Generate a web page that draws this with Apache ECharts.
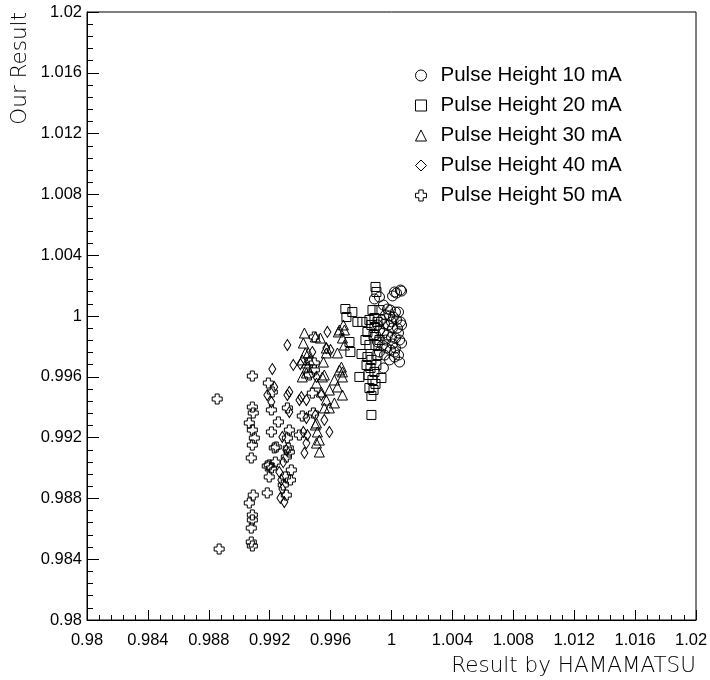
<!DOCTYPE html>
<html>
<head>
<meta charset="utf-8">
<script src="https://cdn.jsdelivr.net/npm/echarts@6/dist/echarts.min.js"></script>
<style>html,body{margin:0;padding:0;background:#fff}#c{width:710px;height:680px}</style>
</head>
<body>
<div id="c"></div>
<script>
const seriesNames = ['Pulse Height 10 mA','Pulse Height 20 mA','Pulse Height 30 mA','Pulse Height 40 mA','Pulse Height 50 mA'];
const xTitle = 'Result by HAMAMATSU';
const yTitle = 'Our Result';
const axisMin = 0.98, axisMax = 1.02, axisStep = 0.004;

const ph10 = [
[1.00059,1.00171],[1.00066,1.00164],[1.00033,1.00151],[1.00020,1.00158],[1.00007,1.00132],[0.99921,1.00125],
[0.99888,1.00112],[0.99947,1.00072],[0.99974,1.00046],[0.99993,1.00039],[1.00026,1.00026],[1.00046,1.00026],
[0.99961,1.00007],[0.99987,1.00000],[1.00013,0.99993],[1.00033,0.99974],[1.00059,0.99961],[0.99934,0.99974],
[0.99954,0.99947],[0.99980,0.99941],[1.00007,0.99921],[1.00039,0.99921],[1.00066,0.99941],[0.99921,0.99908],
[0.99947,0.99888],[0.99974,0.99875],[1.00000,0.99862],[1.00026,0.99855],[1.00053,0.99842],[1.00066,0.99822],
[0.99908,0.99829],[0.99941,0.99809],[0.99967,0.99789],[0.99993,0.99776],[1.00020,0.99763],[1.00046,0.99743],
[0.99954,0.99743],[0.99987,0.99711],[1.00020,0.99730],[1.00053,0.99697],[0.99947,0.99658],[0.99921,0.99763],
[1.00007,0.99816],[0.99895,0.99875],[0.99908,0.99941],[1.00046,0.99888],[0.99961,0.99842],[1.00000,0.99961],
[1.00026,0.99789]
];
const ph20 = [
[0.99895,1.00191],[0.99901,1.00158],[0.99875,1.00039],[0.99921,1.00039],[0.99697,1.00046],[0.99743,1.00026],
[0.99704,0.99993],[0.99776,0.99961],[0.99809,0.99961],[0.99724,0.99829],[0.99730,0.99763],[0.99803,0.99750],
[0.99789,0.99599],[0.99868,0.99474],[0.99868,0.99349],[0.99855,0.99974],[0.99868,0.99941],[0.99888,0.99987],
[0.99908,0.99961],[0.99842,0.99895],[0.99882,0.99875],[0.99855,0.99809],[0.99895,0.99809],[0.99842,0.99730],
[0.99868,0.99711],[0.99908,0.99743],[0.99836,0.99678],[0.99862,0.99658],[0.99888,0.99632],[0.99849,0.99612],
[0.99875,0.99579],[0.99895,0.99553],[0.99855,0.99526],[0.99882,0.99513],[0.99901,0.99678],[0.99921,0.99842],
[0.99934,0.99592],[0.99888,0.99921],[0.99829,0.99842]
];
const ph30 = [
[0.99428,0.99888],[0.99421,0.99822],[0.99434,0.99757],[0.99454,0.99757],[0.99441,0.99691],[0.99441,0.99625],
[0.99559,0.99612],[0.99553,0.99697],[0.99572,0.99757],[0.99651,0.99895],[0.99645,0.99757],[0.99658,0.99645],
[0.99678,0.99632],[0.99533,0.99855],[0.99500,0.99862],[0.99414,0.99711],[0.99447,0.99664],[0.99414,0.99599],
[0.99546,0.99599],[0.99572,0.99789],[0.99658,0.99908],[0.99691,0.99908],[0.99678,0.99855],[0.99671,0.99664],
[0.99678,0.99599],[0.99645,0.99533],[0.99678,0.99480],[0.99625,0.99428],[0.99507,0.99296],[0.99513,0.99237],
[0.99507,0.99164],[0.99526,0.99105],[0.99559,0.99395],[0.99572,0.99447],[0.99539,0.99500],[0.99507,0.99559],
[0.99500,0.99283],[0.99526,0.99184],[0.99592,0.99395],[0.99691,0.99809],[0.99625,0.99579],[0.99461,0.99711],
[0.99592,0.99513],[0.99684,0.99941]
];
const ph40 = [
[0.99579,0.99895],[0.99316,0.99809],[0.99355,0.99678],[0.99217,0.99651],[0.99572,0.99789],[0.99230,0.99533],
[0.99184,0.99480],[0.99211,0.99434],[0.99329,0.99368],[0.99316,0.99480],[0.99441,0.99329],[0.99447,0.99217],
[0.99441,0.99164],[0.99428,0.99099],[0.99507,0.99599],[0.99539,0.99480],[0.99559,0.99316],[0.99329,0.99500],
[0.99408,0.99467],[0.99441,0.99447],[0.99421,0.99237],[0.99592,0.99237],[0.99263,0.98974],[0.99276,0.98921],
[0.99283,0.98862],[0.99270,0.98803],[0.99296,0.98776],[0.99599,0.99776],[0.99480,0.99763],[0.99401,0.99684],
[0.99395,0.99447],[0.99283,0.99204],[0.99500,0.99349],[0.99309,0.99118],[0.99289,0.99039]
];
const ph50 = [
[0.98855,0.99454],[0.98868,0.98467],[0.99079,0.98513],[0.99086,0.98487],[0.99079,0.98605],[0.99086,0.98658],
[0.99086,0.98691],[0.99066,0.98770],[0.99092,0.98822],[0.99184,0.98836],[0.99197,0.98941],[0.99211,0.99000],
[0.99184,0.99013],[0.99243,0.99138],[0.99237,0.99039],[0.99303,0.98941],[0.99309,0.98822],[0.99322,0.99132],
[0.99309,0.99072],[0.99329,0.99105],[0.99079,0.99066],[0.99086,0.99151],[0.99086,0.99401],[0.99092,0.99362],
[0.99066,0.99296],[0.99099,0.99197],[0.99211,0.99382],[0.99257,0.99303],[0.99211,0.99237],[0.99230,0.99132],
[0.99329,0.99250],[0.99316,0.99395],[0.99316,0.99197],[0.99487,0.99362],[0.99480,0.99493],[0.99217,0.99500],
[0.99086,0.99605],[0.99493,0.99691],[0.99493,0.99645],[0.99461,0.99612],[0.99493,0.99862],[0.99191,0.99559],
[0.99289,0.98888],[0.99336,0.98921],[0.99414,0.99342],[0.99395,0.99217],[0.99086,0.99250],[0.99197,0.99020],
[0.99342,0.98987]
];

const allData = [ph10, ph20, ph30, ph40, ph50];
const symbols = [
  'circle',
  'rect',
  'triangle',
  'diamond',
  'path://M3,0 L7,0 L7,3 L10,3 L10,7 L7,7 L7,10 L3,10 L3,7 L0,7 L0,3 L3,3 Z'
];
const sizes = [10, 9, 10, [7, 11], 10];

const font = 'Liberation Sans, Arial, Helvetica, sans-serif';
const titleFont = 'DejaVu Sans, Liberation Sans, sans-serif';
const chart = echarts.init(document.getElementById('c'), null, {renderer: 'canvas'});

function makeAxis(isX) {
  const labelStyle = {color: '#000', fontFamily: font, fontSize: 16.5};
  return {
    type: 'value',
    min: axisMin, max: axisMax, interval: axisStep,
    name: isX ? xTitle : yTitle,
    nameLocation: 'end',
    nameGap: 0,
    nameRotate: isX ? 0 : 90,
    nameTextStyle: isX ? {
      fontFamily: titleFont, fontWeight: 200, fontSize: 21.5, color: '#000', align: 'right', verticalAlign: 'top',
      padding: [35, 0, 0, 0]
    } : {
      fontFamily: titleFont, fontWeight: 200, fontSize: 21.5, color: '#000', align: 'right', verticalAlign: 'bottom',
      padding: [0, 0, 56, 0]
    },
    axisLine: {show: true, onZero: false, lineStyle: {color: '#000', width: 1}},
    axisTick: {show: true, inside: true, length: isX ? 10 : 12, lineStyle: {color: '#000', width: 1}},
    minorTick: {show: true, splitNumber: 5, length: isX ? 5 : 6, lineStyle: {color: '#000', width: 1}},
    splitLine: {show: false},
    axisLabel: {
      color: '#000', fontFamily: font, fontSize: 16.5, margin: isX ? 12 : 5,
      showMinLabel: true, showMaxLabel: true,
      alignMaxLabel: isX ? 'right' : null,
      rich: {
        last: Object.assign({width: 21, align: 'left'}, labelStyle)
      },
      formatter: function (v) {
        const s = String(Math.round(v * 1000) / 1000);
        if (isX && Math.abs(v - axisMax) < 1e-9) return '{last|' + s + '}';
        return s;
      }
    }
  };
}

chart.setOption({
  backgroundColor: '#fff',
  animation: false,
  grid: {left: 87, top: 12, right: 14, bottom: 60, show: true, borderColor: '#000', borderWidth: 1,
         containLabel: false, outerBoundsMode: 'none'},
  xAxis: makeAxis(true),
  yAxis: makeAxis(false),
  legend: {
    orient: 'vertical',
    left: 410, top: 60,
    itemWidth: 11, itemHeight: 11,
    itemGap: 9,
    itemStyle: {borderWidth: 1, borderColor: '#000', color: 'rgba(0,0,0,0)'},
    textStyle: {fontFamily: font, fontSize: 20.5, color: '#000', padding: [0, 0, 0, 9]},
    data: seriesNames
  },
  series: seriesNames.map(function (n, i) {
    return {
      name: n,
      type: 'scatter',
      data: allData[i],
      symbol: symbols[i],
      symbolSize: sizes[i],
      itemStyle: {color: 'rgba(0,0,0,0)', borderColor: '#000', borderWidth: 1, opacity: 1}
    };
  })
});
</script>
</body>
</html>
